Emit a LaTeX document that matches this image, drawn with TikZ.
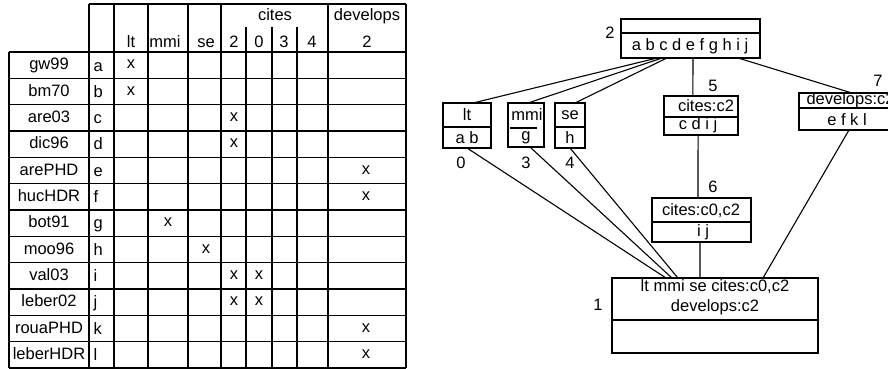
\documentclass[tikz,border=0pt]{standalone}
\usepackage{fontspec}
\setmainfont{Liberation Sans}
\usetikzlibrary{positioning}
\usetikzlibrary{calc}

\begin{document}
\begin{tikzpicture}[x=1pt,y=-1pt,line width=1.1pt,
                every node/.style={font=\fontsize{16.5}{20}\selectfont,inner sep=0pt},
                concept node/.style={draw,rectangle,outer sep=0pt,inner sep=0pt},
                cell/.style={anchor=base}]

  \useasboundingbox (0,0) rectangle (888,369);
  \clip (0,0) rectangle (888,369);
  \fill[white] (0,0) rectangle (888,369);

  % context table
  \draw (89,4) -- (406,4);
  \foreach \i in {0,...,12}
    \draw (9,{52+26.33*\i}) -- (406,{52+26.33*\i});
  \draw (9,52) -- (9,368);
  \foreach \x in {89,114,148,188,221,328,406}
    \draw (\x,4) -- (\x,368);
  \foreach \x in {246,272,297}
    \draw (\x,27) -- (\x,368);

  \node[cell] (cites) at (275,21) {cites};
  \node[cell] (develops) at (367,21) {develops};
  \foreach \t/\x [count=\k] in {lt/131,mmi/165,se/206,2/234,0/259,3/284,4/312,2/367}
    \node[cell] (attr\k) at (\x,48) {\t};

  \foreach \name/\obj [count=\r] in {gw99/a,bm70/b,are03/c,dic96/d,arePHD/e,hucHDR/f,
                                     bot91/g,moo96/h,val03/i,leber02/j,rouaPHD/k,leberHDR/l}
  {
    \node[cell] (row\r) at (49,{52+26.33*(\r-1)+18}) {\name};
    \node[anchor=base west] (obj\r) at (93,{52+26.33*(\r-1)+19}) {\obj};
  }

  \foreach \r/\x in {1/131,2/131,3/234,4/234,5/366,6/366,7/168,8/206,
                     9/234,9/259,10/234,10/259,11/366,12/366}
    \node[cell] (cross\r-\x) at (\x,{52+26.33*(\r-1)+17}) {x};

  % concept lattice
  \node[concept node,minimum width=139pt,minimum height=39pt] (n2) at (690.5,38.5) {};
  \draw (621,33) -- (760,33);
  \node (ext2) at (690,46) {a b c d e f g h i j};
  \node (lab2) at (610,33) {2};

  \node[concept node,minimum width=48pt,minimum height=45pt] (n0) at (467,125.5) {};
  \draw (443,127) -- (491,127);
  \node (int0) at (467,115) {lt};
  \node (ext0) at (467,138) {a b};
  \node (lab0) at (461,163) {0};

  \node[concept node,minimum width=36pt,minimum height=44pt] (n3) at (526,125) {};
  \draw (510,128) -- (537,128);
  \node (int3) at (527,115) {mmi};
  \node (ext3) at (526,138) {g};
  \node (lab3) at (526,163) {3};

  \node[concept node,minimum width=30pt,minimum height=45pt] (n4) at (570,125.5) {};
  \draw (555,127) -- (585,127);
  \node (int4) at (570,115) {se};
  \node (ext4) at (570,138) {h};
  \node (lab4) at (570,163) {4};

  \node[concept node,minimum width=74pt,minimum height=39pt] (n5) at (701,115.5) {};
  \draw (664,117) -- (738,117);
  \node (int5) at (706,106) {cites:c2};
  \node (ext5) at (698,125) {c d i j};
  \node (lab5) at (713,86) {5};

  \node[concept node,minimum width=98pt,minimum height=37pt] (n7) at (848,111.5) {};
  \draw (799,108) -- (897,108);
  \node[anchor=west] (int7) at (806,100) {develops:c2};
  \node (ext7) at (847,120) {e f k l};
  \node (lab7) at (878,81) {7};

  \node[concept node,minimum width=99pt,minimum height=44pt] (n6) at (701.5,220) {};
  \draw (652,222) -- (751,222);
  \node (int6) at (701,211) {cites:c0,c2};
  \node (ext6) at (703,232) {i j};
  \node (lab6) at (713,187) {6};

  \node[concept node,minimum width=206pt,minimum height=75pt] (n1) at (715,315.5) {};
  \draw (612,320) -- (818,320);
  \node[align=center] (int1) at (715,297) {lt mmi se cites:c0,c2\\develops:c2};
  \node (lab1) at (598,305) {1};

  \draw ($(n2.south west)!.26!(n2.south east)$) -- ($(n0.north west)!.625!(n0.north east)$);
  \draw ($(n2.south west)!.295!(n2.south east)$) -- ($(n3.north west)!.556!(n3.north east)$);
  \draw ($(n2.south west)!.33!(n2.south east)$) -- ($(n4.north west)!.667!(n4.north east)$);
  \draw ($(n2.south west)!.518!(n2.south east)$) -- ($(n5.north west)!.39!(n5.north east)$);
  \draw ($(n2.south west)!.842!(n2.south east)$) -- ($(n7.north west)!.54!(n7.north east)$);
  \draw ($(n5.south west)!.46!(n5.south east)$) -- ($(n6.north west)!.465!(n6.north east)$);
  \draw ($(n6.south west)!.485!(n6.south east)$) -- ($(n1.north west)!.427!(n1.north east)$);
  \draw ($(n7.south west)!.51!(n7.south east)$) -- ($(n1.north west)!.733!(n1.north east)$);
  \draw (n0.south) -- ($(n1.north west)!.262!(n1.north east)$);
  \draw ($(n3.south west)!.61!(n3.south east)$) -- ($(n1.north west)!.291!(n1.north east)$);
  \draw (n4.south) -- ($(n1.north west)!.32!(n1.north east)$);

\end{tikzpicture}
\end{document}
